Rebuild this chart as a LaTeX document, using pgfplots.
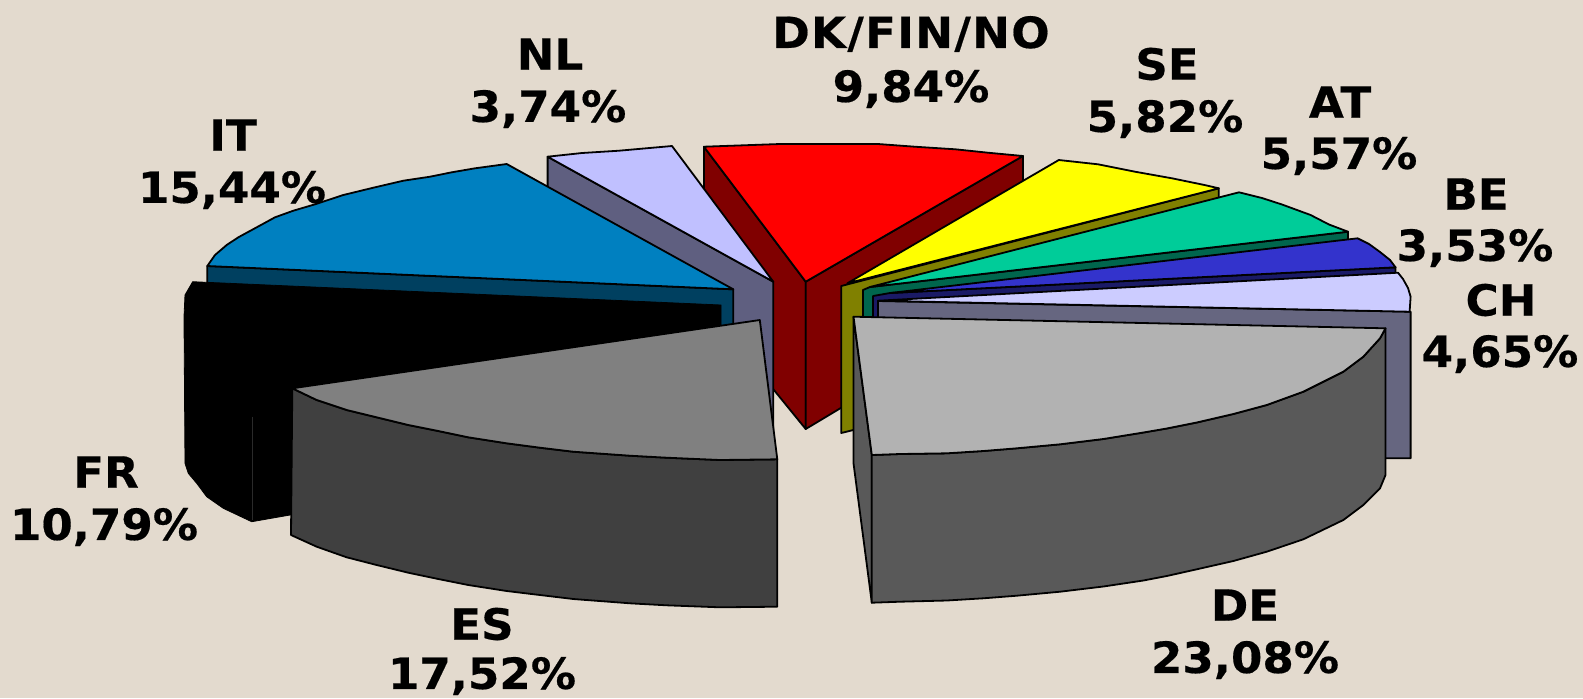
\documentclass[border=0pt]{standalone}
\usepackage{fontspec}
\setmainfont{DejaVu Sans}[BoldFeatures={FakeBold=0.4,FakeStretch=1.05}]
\usepackage{pgfplots}
\pgfplotsset{compat=1.18}
\definecolor{bg}{HTML}{E3DACE}
\definecolor{dkside}{HTML}{800000}
\definecolor{dktop}{HTML}{FF0000}
\definecolor{nlside}{HTML}{5F5F80}
\definecolor{nltop}{HTML}{C0C0FF}
\definecolor{itside}{HTML}{004060}
\definecolor{ittop}{HTML}{0080C0}
\definecolor{seside}{HTML}{808000}
\definecolor{setop}{HTML}{FFFF00}
\definecolor{atside}{HTML}{00664D}
\definecolor{attop}{HTML}{00CC99}
\definecolor{beside}{HTML}{1A1A66}
\definecolor{betop}{HTML}{3333CC}
\definecolor{chside}{HTML}{666680}
\definecolor{chtop}{HTML}{CCCCFF}
\definecolor{esside}{HTML}{404040}
\definecolor{estop}{HTML}{808080}
\definecolor{deside}{HTML}{595959}
\definecolor{detop}{HTML}{B2B2B2}
% one axis unit is one pixel of the reference, y runs downwards
\pgfplotsset{
  face/.style={draw=black,line width=0.9pt,line join=round,fill=#1,mark=none,sharp plot},
  lab/.style={draw=none,mark=none,forget plot},
}
\newcommand{\lbl}[3]{\addplot[lab] coordinates {(#1,#2)} node[font=\fontsize{21.5}{26}\selectfont\bfseries,text=black,inner sep=0pt,anchor=center] {#3};}
\begin{document}
\begin{tikzpicture}
\begin{axis}[
    scale only axis,
    width=791.5pt,
    height=349pt,
    xmin=0, xmax=1583,
    ymin=0, ymax=698,
    y dir=reverse,
    hide axis,
    clip=false,
    enlargelimits=false,
]
% background
\addplot[draw=none,fill=bg,mark=none] coordinates {(0,0) (1583,0) (1583,698) (0,698)} --cycle;

% labels that lie behind the pie
\lbl{233}{135}{IT}
\lbl{232}{190}{15,44\%}

% DK/FIN/NO
\addplot[face=dkside] coordinates {(703.9,146.7) (805.7,281.7) (805.7,429) (703.9,304)} --cycle;
\addplot[face=dkside] coordinates {(1022.9,156) (805.7,281.7) (805.7,429) (1022.9,299)} --cycle;
\addplot[face=dktop] coordinates {(703.9,146.7) (780,144) (878,144) (914.7,146.7) (955.5,149.3) (988,152.7) (1022.9,156) (805.7,281.7)} --cycle;

% NL
\addplot[face=nlside] coordinates {(547.6,156.7) (773.3,281.7) (773.3,430) (547.6,290)} --cycle;
\addplot[face=nltop] coordinates {(547.6,156.7) (582,153) (619,150.7) (672,146) (773.3,281.7)} --cycle;

% IT
\addplot[face=itside] coordinates {(207.3,266) (733.3,289.3) (733.3,330) (207.3,290)} --cycle;
\addplot[face=ittop] coordinates {(207.3,266) (215,255) (226.7,245) (238.3,237.3) (256.7,227.3) (275,217.3) (293.3,210.7) (315,204.3) (343.3,195) (373.3,187.7) (403.3,180.7) (430,176.7) (451.7,172.3) (475,168.3) (506.7,164) (733.3,289.3)} --cycle;

% SE
\addplot[face=seside] coordinates {(841.2,286) (1218.8,188.3) (1218.8,340) (841.2,433)} --cycle;
\addplot[face=setop] coordinates {(847.3,283.3) (1058.8,160) (1098,164.3) (1135,171.7) (1172,178.3) (1204.5,185) (1218.8,188.3)} --cycle;

% AT
\addplot[face=atside] coordinates {(862.9,290) (870,287) (1348,231.7) (1348,400) (862.9,500)} --cycle;
\addplot[face=attop] coordinates {(870,287) (1239,192.3) (1262,198) (1282,204.5) (1310.6,215) (1329,224.5) (1348,231.7)} --cycle;

% BE
\addplot[face=beside] coordinates {(873,296) (890,293) (1395.5,267.3) (1396,400) (873,500)} --cycle;
\addplot[face=betop] coordinates {(890,293) (1357.6,238.3) (1369,244) (1380,252) (1390,260) (1395.5,267.3)} --cycle;

% CH
\addplot[face=chside] coordinates {(878,301) (1410.6,311.7) (1410.6,458.3) (878,458.3)} --cycle;
\addplot[face=chtop] coordinates {(878,300.7) (1398,272.7) (1403,279) (1408,288) (1410.6,296.7) (1409.6,311.7)} --cycle;

% FR
\addplot[draw=black,fill=black,mark=none] coordinates {(192.7,281.7) (721,305) (721,400) (290,515) (251.7,521.7) (223.3,508.3) (206.7,496.7) (196.7,483.3) (188.3,473.3) (185,463.3) (184,316.7) (185,295)} --cycle;
\addplot[draw={rgb:black,5;white,1},line width=0.3pt,mark=none] coordinates {(252.3,416.7) (252.3,520)};

% ES
\addplot[face=esside] coordinates {(292.3,388.3) (316.7,400) (346.7,410) (376.7,417.3) (408.3,425) (438.3,431) (468.3,437.3) (506.7,443.3) (540,447.7) (573.3,451.7) (630,455.7) (666.7,457.7) (720,460) (777.3,459.3) (777.3,606.7) (720,607.3) (666.7,605.3) (630,603.3) (573.3,599) (540,595) (506.7,591) (468.3,585) (438.3,579) (408.3,572.7) (376.7,565) (346.7,557.3) (316.7,546.7) (291,535)} --cycle;
\addplot[face=estop] coordinates {(759.8,320) (292.3,388.3) (316.7,400) (346.7,410) (376.7,417.3) (408.3,425) (438.3,431) (468.3,437.3) (506.7,443.3) (540,447.7) (573.3,451.7) (630,455.7) (666.7,457.7) (720,460) (777.3,459.3)} --cycle;

% DE
\addplot[face=deside] coordinates {(853.5,316.7) (871.8,455) (871.8,602.7) (853.5,463.3)} --cycle;
\addplot[face=deside] coordinates {(1385.5,328.3) (1380,338.3) (1363.3,356.7) (1343.3,371.7) (1303.3,391.7) (1266.7,405) (1233.3,414) (1196.7,422.5) (1166.7,428.5) (1143.3,432.5) (1103.3,439) (1060,444.3) (1016.7,448.3) (983.3,451) (946.7,453.3) (900,454) (871.8,455) (871.8,602.7) (900,601.7) (946.7,600.5) (983.3,598.3) (1016.7,595.7) (1060,591.7) (1103.3,586.5) (1143.3,580.5) (1166.7,576) (1196.7,569.3) (1233.3,561) (1266.7,551.7) (1303.3,539.3) (1343.3,520) (1363.3,505) (1380,488.3) (1385.5,475)} --cycle;
\addplot[face=detop] coordinates {(853.5,316.7) (1385.5,328.3) (1380,338.3) (1363.3,356.7) (1343.3,371.7) (1303.3,391.7) (1266.7,405) (1233.3,414) (1196.7,422.5) (1166.7,428.5) (1143.3,432.5) (1103.3,439) (1060,444.3) (1016.7,448.3) (983.3,451) (946.7,453.3) (900,454) (871.8,455)} --cycle;

% labels
\lbl{911}{34}{\addfontfeature{LetterSpace=3}DK/FIN/NO}
\lbl{911}{89}{9,84\%}
\lbl{550}{54}{NL}
\lbl{548}{109}{3,74\%}
\lbl{1167}{64}{SE}
\lbl{1165}{119}{5,82\%}
\lbl{1340}{102}{AT}
\lbl{1339}{156}{5,57\%}
\lbl{1476}{194}{BE}
\lbl{1475}{248}{3,53\%}
\lbl{1501}{300}{CH}
\lbl{1500}{354}{4,65\%}
\lbl{1245}{605}{DE}
\lbl{1245}{660}{23,08\%}
\lbl{482}{624}{ES}
\lbl{482}{676}{17,52\%}
\lbl{106}{472}{FR}
\lbl{104}{527}{10,79\%}
\end{axis}
\end{tikzpicture}
\end{document}
